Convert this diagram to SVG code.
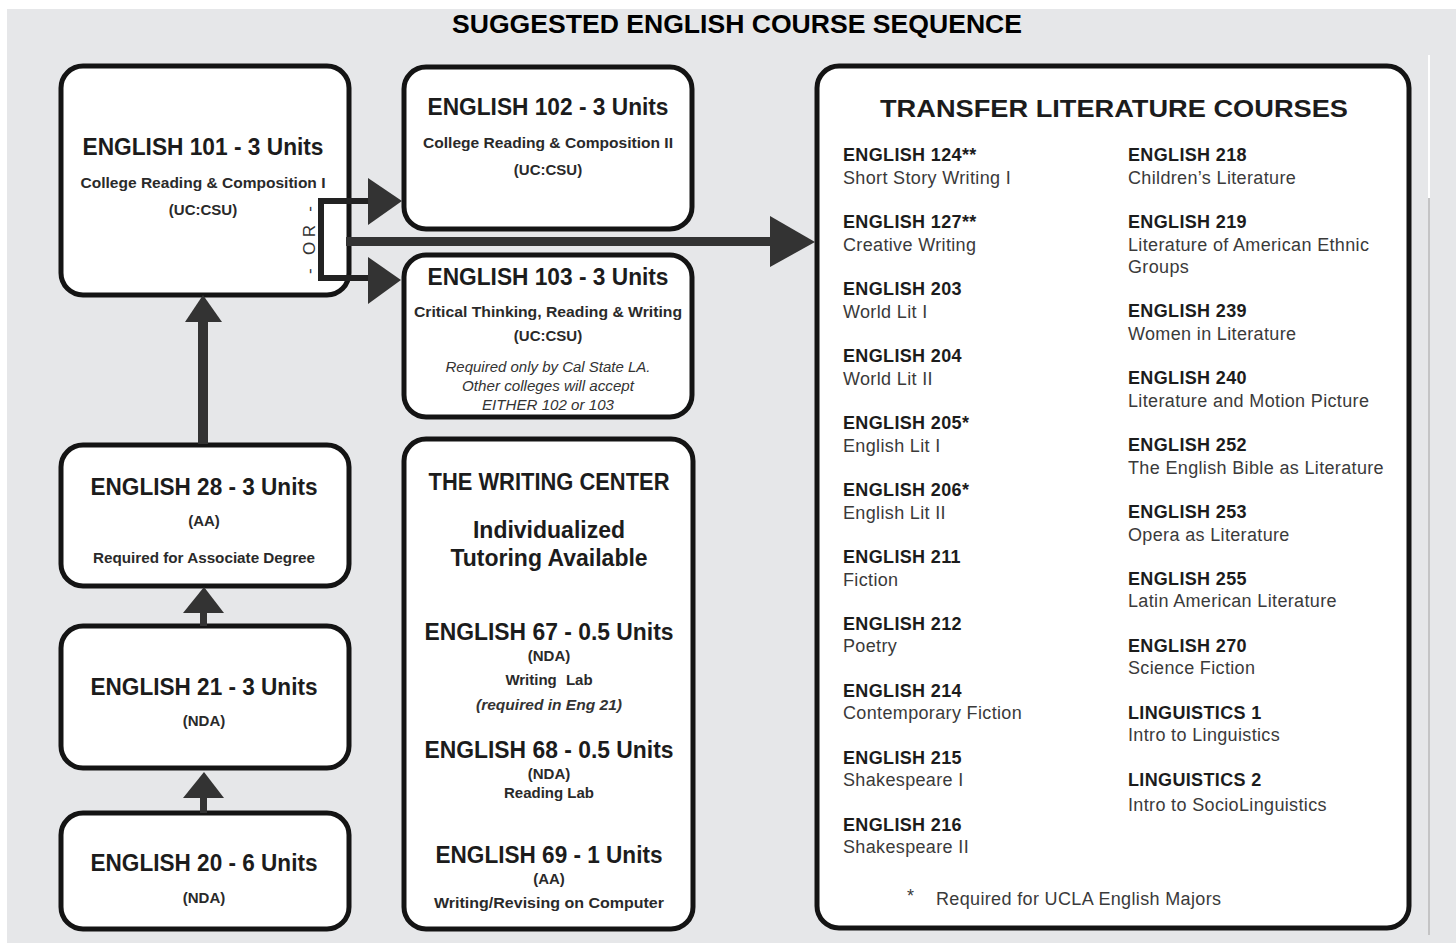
<svg xmlns="http://www.w3.org/2000/svg" width="1456" height="943" viewBox="0 0 1456 943">
<style>
text{font-family:"Liberation Sans",Arial,sans-serif;fill:#1c1c1c}
.box{fill:#fff;stroke:#141414;stroke-width:5}
.t{font-weight:bold;font-size:23px;text-anchor:middle}
.s{font-weight:bold;font-size:15px;text-anchor:middle;fill:#2a2a2a}
.it{font-style:italic;font-size:14.5px;text-anchor:middle;fill:#333}
.lb{font-weight:bold;font-size:18px;letter-spacing:0.35px}
.ds{font-size:18px;letter-spacing:0.35px;fill:#3a3a3a}
.arr{fill:#333}
</style>
<rect x="0" y="0" width="1456" height="943" fill="#fff"/>
<rect x="7" y="9" width="1449" height="934" fill="#e6e7e9"/>
<line x1="1429" y1="55" x2="1429" y2="198" stroke="#fff" stroke-width="2"/>
<line x1="1429" y1="198" x2="1429" y2="935" stroke="#b9b9b9" stroke-width="1.5"/>
<text x="737" y="33" text-anchor="middle" font-weight="bold" font-size="26.5" textLength="570" lengthAdjust="spacingAndGlyphs" style="fill:#000">SUGGESTED ENGLISH COURSE SEQUENCE</text>

<g id="eng101">
<rect class="box" x="61" y="66" width="288" height="229" rx="22"/>
<text class="t" x="203" y="155" textLength="241" lengthAdjust="spacingAndGlyphs">ENGLISH 101 - 3 Units</text>
<text class="s" x="203" y="188" textLength="245" lengthAdjust="spacingAndGlyphs">College Reading &amp; Composition I</text>
<text class="s" x="203" y="215">(UC:CSU)</text>
</g>

<g id="eng102">
<rect class="box" x="404" y="67" width="288" height="162" rx="22"/>
<text class="t" x="548" y="115" textLength="241" lengthAdjust="spacingAndGlyphs">ENGLISH 102 - 3 Units</text>
<text class="s" x="548" y="148" textLength="250" lengthAdjust="spacingAndGlyphs">College Reading &amp; Composition II</text>
<text class="s" x="548" y="175">(UC:CSU)</text>
</g>

<g id="eng103">
<rect class="box" x="404" y="255" width="288" height="162" rx="22"/>
<text class="t" x="548" y="285" textLength="241" lengthAdjust="spacingAndGlyphs">ENGLISH 103 - 3 Units</text>
<text class="s" x="548" y="317" textLength="268" lengthAdjust="spacingAndGlyphs">Critical Thinking, Reading &amp; Writing</text>
<text class="s" x="548" y="341">(UC:CSU)</text>
<text class="it" x="548" y="372" textLength="205" lengthAdjust="spacingAndGlyphs">Required only by Cal State LA.</text>
<text class="it" x="548" y="391" textLength="172" lengthAdjust="spacingAndGlyphs">Other colleges will accept</text>
<text class="it" x="548" y="410" textLength="132" lengthAdjust="spacingAndGlyphs">EITHER 102 or 103</text>
</g>

<g id="writing-center">
<rect class="box" x="404" y="439" width="289" height="490" rx="22"/>
<text class="t" x="549" y="490" font-size="22" textLength="241" lengthAdjust="spacingAndGlyphs">THE WRITING CENTER</text>
<text class="t" x="549" y="538" font-size="22.5">Individualized</text>
<text class="t" x="549" y="566" font-size="22.5">Tutoring Available</text>
<text class="t" x="549" y="640" textLength="249" lengthAdjust="spacingAndGlyphs">ENGLISH 67 - 0.5 Units</text>
<text class="s" x="549" y="661" font-size="14">(NDA)</text>
<text class="s" x="549" y="685" word-spacing="5">Writing Lab</text>
<text class="it" x="549" y="710" font-size="15" font-weight="bold" textLength="146" lengthAdjust="spacingAndGlyphs">(required in Eng 21)</text>
<text class="t" x="549" y="758" textLength="249" lengthAdjust="spacingAndGlyphs">ENGLISH 68 - 0.5 Units</text>
<text class="s" x="549" y="779" font-size="14">(NDA)</text>
<text class="s" x="549" y="798">Reading Lab</text>
<text class="t" x="549" y="863" textLength="227" lengthAdjust="spacingAndGlyphs">ENGLISH 69 - 1 Units</text>
<text class="s" x="549" y="884" font-size="14">(AA)</text>
<text class="s" x="549" y="908" textLength="230" lengthAdjust="spacingAndGlyphs">Writing/Revising on Computer</text>
</g>

<g id="eng28">
<rect class="box" x="61" y="445" width="288" height="141" rx="22"/>
<text class="t" x="204" y="495" textLength="227" lengthAdjust="spacingAndGlyphs">ENGLISH 28 - 3 Units</text>
<text class="s" x="204" y="526" font-size="14">(AA)</text>
<text class="s" x="204" y="563" textLength="222" lengthAdjust="spacingAndGlyphs">Required for Associate Degree</text>
</g>

<g id="eng21">
<rect class="box" x="61" y="626" width="288" height="142" rx="22"/>
<text class="t" x="204" y="695" textLength="227" lengthAdjust="spacingAndGlyphs">ENGLISH 21 - 3 Units</text>
<text class="s" x="204" y="726" font-size="14">(NDA)</text>
</g>

<g id="eng20">
<rect class="box" x="61" y="813" width="288" height="116" rx="22"/>
<text class="t" x="204" y="871" textLength="227" lengthAdjust="spacingAndGlyphs">ENGLISH 20 - 6 Units</text>
<text class="s" x="204" y="903" font-size="14">(NDA)</text>
</g>

<g id="transfer">
<rect class="box" x="817" y="66" width="592" height="862" rx="22"/>
<text class="t" x="1114" y="117" font-size="26" textLength="468" lengthAdjust="spacingAndGlyphs">TRANSFER LITERATURE COURSES</text>
<g id="left-col">
<text class="lb" x="843" y="161">ENGLISH 124**</text><text class="ds" x="843" y="184">Short Story Writing I</text>
<text class="lb" x="843" y="228">ENGLISH 127**</text><text class="ds" x="843" y="251">Creative Writing</text>
<text class="lb" x="843" y="295">ENGLISH 203</text><text class="ds" x="843" y="318">World Lit I</text>
<text class="lb" x="843" y="362">ENGLISH 204</text><text class="ds" x="843" y="385">World Lit II</text>
<text class="lb" x="843" y="429">ENGLISH 205*</text><text class="ds" x="843" y="452">English Lit I</text>
<text class="lb" x="843" y="496">ENGLISH 206*</text><text class="ds" x="843" y="519">English Lit II</text>
<text class="lb" x="843" y="563">ENGLISH 211</text><text class="ds" x="843" y="586">Fiction</text>
<text class="lb" x="843" y="630">ENGLISH 212</text><text class="ds" x="843" y="652">Poetry</text>
<text class="lb" x="843" y="697">ENGLISH 214</text><text class="ds" x="843" y="719">Contemporary Fiction</text>
<text class="lb" x="843" y="764">ENGLISH 215</text><text class="ds" x="843" y="786">Shakespeare I</text>
<text class="lb" x="843" y="831">ENGLISH 216</text><text class="ds" x="843" y="853">Shakespeare II</text>
</g>
<g id="right-col">
<text class="lb" x="1128" y="161">ENGLISH 218</text><text class="ds" x="1128" y="184">Children’s Literature</text>
<text class="lb" x="1128" y="228">ENGLISH 219</text><text class="ds" x="1128" y="251">Literature of American Ethnic</text><text class="ds" x="1128" y="273">Groups</text>
<text class="lb" x="1128" y="317">ENGLISH 239</text><text class="ds" x="1128" y="340">Women in Literature</text>
<text class="lb" x="1128" y="384">ENGLISH 240</text><text class="ds" x="1128" y="407">Literature and Motion Picture</text>
<text class="lb" x="1128" y="451">ENGLISH 252</text><text class="ds" x="1128" y="474">The English Bible as Literature</text>
<text class="lb" x="1128" y="518">ENGLISH 253</text><text class="ds" x="1128" y="541">Opera as Literature</text>
<text class="lb" x="1128" y="585">ENGLISH 255</text><text class="ds" x="1128" y="607">Latin American Literature</text>
<text class="lb" x="1128" y="652">ENGLISH 270</text><text class="ds" x="1128" y="674">Science Fiction</text>
<text class="lb" x="1128" y="719">LINGUISTICS 1</text><text class="ds" x="1128" y="741">Intro to Linguistics</text>
<text class="lb" x="1128" y="786">LINGUISTICS 2</text><text class="ds" x="1128" y="811">Intro to SocioLinguistics</text>
</g>
<text class="ds" x="907" y="902">*</text>
<text class="ds" x="936" y="905">Required for UCLA English Majors</text>
</g>

<g id="connectors">
<path d="M372 201 H321 V278 H372" fill="none" stroke="#222" stroke-width="6"/>
<line x1="346" y1="241.5" x2="774" y2="241.5" stroke="#333" stroke-width="9"/>
<polygon class="arr" points="770,216 815,242 770,267"/>
<polygon class="arr" points="368,178 402,201 368,225"/>
<polygon class="arr" points="368,257 401,280 368,304"/>
<text x="0" y="0" transform="translate(315,240) rotate(-90)" text-anchor="middle" font-size="17" textLength="68" lengthAdjust="spacing" style="fill:#333">- OR -</text>
<rect class="arr" x="198" y="320" width="10" height="124"/>
<polygon class="arr" points="185,322 203,295 222,322"/>
<rect class="arr" x="200" y="611" width="7" height="15"/>
<polygon class="arr" points="183,613 204,587 224,613"/>
<rect class="arr" x="200" y="796" width="7" height="17"/>
<polygon class="arr" points="183,798 204,772 224,798"/>
</g>
</svg>
